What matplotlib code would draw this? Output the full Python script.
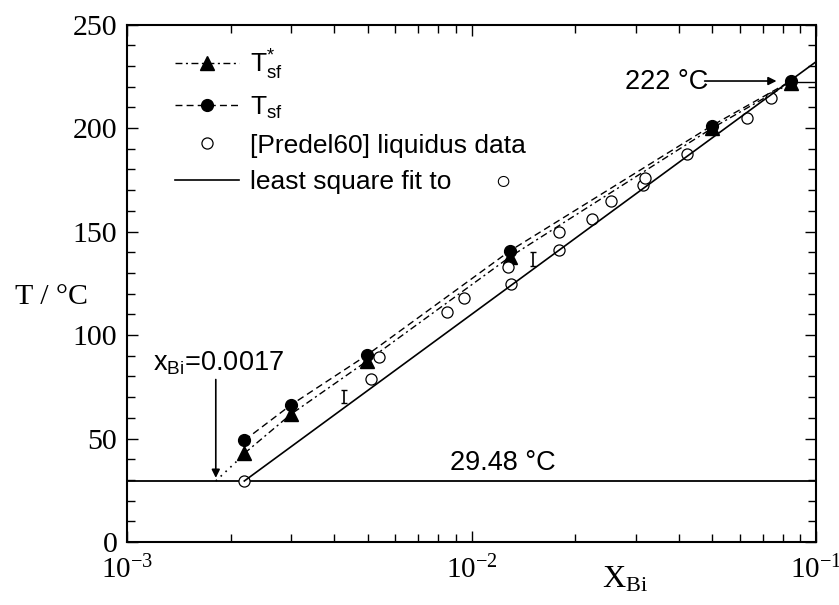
import numpy as np
import matplotlib
matplotlib.use("Agg")
import matplotlib.pyplot as plt
from matplotlib.ticker import LogLocator, NullFormatter, MultipleLocator

# T_sf* (triangles) and T_sf (filled circles)
x_calc = [0.00219, 0.00299, 0.00497, 0.01294, 0.0498, 0.0846]
t_star = [42.8, 61.7, 87.4, 137.8, 199.8, 221.9]
t_sf = [49.1, 66.2, 90.3, 140.7, 201.1, 222.7]

# [Predel60] liquidus data
x_pred = [0.00219, 0.0051, 0.0054, 0.00847, 0.0095, 0.0128, 0.0130, 0.0180,
          0.0180, 0.0223, 0.0254, 0.0314, 0.0319, 0.0422, 0.063, 0.0738]
t_pred = [29.5, 78.6, 89.2, 111.3, 117.7, 133.0, 124.5, 149.6,
          141.0, 156.0, 164.9, 172.5, 175.7, 187.4, 205.0, 214.3]

# least square fit end points
x_fit = [0.00219, 0.1]
t_fit = [29.48, 232.0]

# error bars on the fit
x_err = [0.00427, 0.0151]
t_err = [70.2, 136.8]
e_err = [3.2, 3.4]

# extrapolation to the eutectic
x_ext = [0.00181, 0.00216]
t_ext = [29.48, 41.5]

t_eut = 29.48
t_top = 222

sans = ['Liberation Sans', 'DejaVu Sans']
serif = ['Liberation Serif', 'DejaVu Serif']

fig = plt.figure(figsize=(8.39, 6.05), dpi=100)
ax = fig.add_axes([0.1514, 0.1041, 0.8212, 0.8554])

ax.set_xscale('log')
ax.set_xlim(1e-3, 1e-1)
ax.set_ylim(0, 250)

ax.axhline(t_eut, color='k', lw=1.3)
ax.plot([x_calc[-1], 0.1], [t_top, t_top], color='k', lw=1.0)

ax.plot(x_calc, t_star, color='k', lw=1.0, dashes=(5, 2.5, 1.5, 2.5),
        marker='^', ms=9.5, label=r'$\mathregular{T_{sf}^{*}}$')
ax.plot(x_calc, t_sf, color='k', lw=1.0, dashes=(5, 3),
        marker='o', ms=8.5, label=r'$\mathregular{T_{sf}}$')
ax.plot(x_pred, t_pred, ls='none', marker='o', ms=8, mfc='white', mec='k',
        mew=0.9, label='[Predel60] liquidus data')
ax.plot(x_fit, t_fit, color='k', lw=1.2,
        label='least square fit to      \u25cb')
ax.plot(x_ext, t_ext, color='k', lw=1.2, ls=(0, (1, 3)))
ax.errorbar(x_err, t_err, yerr=e_err, fmt='none', ecolor='k', elinewidth=1.2,
            capsize=2.5, capthick=1.0)

# annotations
ax.annotate('', xy=(0.00181, 31.0), xytext=(0.00181, 78.5),
            arrowprops=dict(arrowstyle='-|>', color='k', lw=1.2,
                            mutation_scale=12, shrinkA=0, shrinkB=0))
ax.text(0.00119, 83, r'$\mathregular{x_{Bi}}$=0.0017', fontsize=19.5,
        family=sans, ha='left', va='baseline')
ax.text(0.00866, 34.8, '29.48 \u00b0C', fontsize=19.5, family=sans,
        ha='left', va='baseline')
ax.text(0.0485, 218.7, '222 \u00b0C', fontsize=19.5, family=sans,
        ha='right', va='baseline')
ax.annotate('', xy=(0.0768, 222.7), xytext=(0.0475, 222.7),
            arrowprops=dict(arrowstyle='-|>', color='k', lw=1.2,
                            mutation_scale=12, shrinkA=0, shrinkB=0))

# axes styling
for s in ax.spines.values():
    s.set_linewidth(1.5)
ax.yaxis.set_major_locator(MultipleLocator(50))
ax.yaxis.set_minor_locator(MultipleLocator(10))
ax.xaxis.set_major_locator(LogLocator(base=10))
ax.xaxis.set_minor_locator(LogLocator(base=10, subs=np.arange(2, 10)))
ax.xaxis.set_minor_formatter(NullFormatter())
ax.tick_params(which='both', direction='in', top=True, right=True, width=1.0)
ax.tick_params(which='major', length=8)
ax.tick_params(which='minor', length=5.5)
ax.tick_params(axis='x', which='major', pad=10)
ax.tick_params(axis='y', which='major', pad=7)

ax.set_xticks([1e-3, 1e-2, 1e-1])
ax.set_xticklabels([r'$\mathregular{10^{-3}}$', r'$\mathregular{10^{-2}}$',
                    r'$\mathregular{10^{-1}}$'], family=serif, fontsize=21)
ax.set_yticks([0, 50, 100, 150, 200, 250])
ax.set_yticklabels(['0', '50', '100', '150', '200', '250'], family=serif,
                   fontsize=21.5)

ax.text(0.723, -0.045, r'$\mathregular{X_{Bi}}$', transform=ax.transAxes,
        family=serif, fontsize=23, ha='center', va='top')
ax.text(-0.11, 0.473, 'T / \u00b0C', transform=ax.transAxes, family=serif,
        fontsize=21.5, ha='center', va='center')

ax.legend(loc='upper left', bbox_to_anchor=(0.07, 0.955), frameon=False,
          prop={'family': sans, 'size': 19}, handlelength=2.4,
          handletextpad=0.45, labelspacing=0.48, borderpad=0,
          borderaxespad=0, numpoints=1)

fig.savefig('out.png', dpi=100)
